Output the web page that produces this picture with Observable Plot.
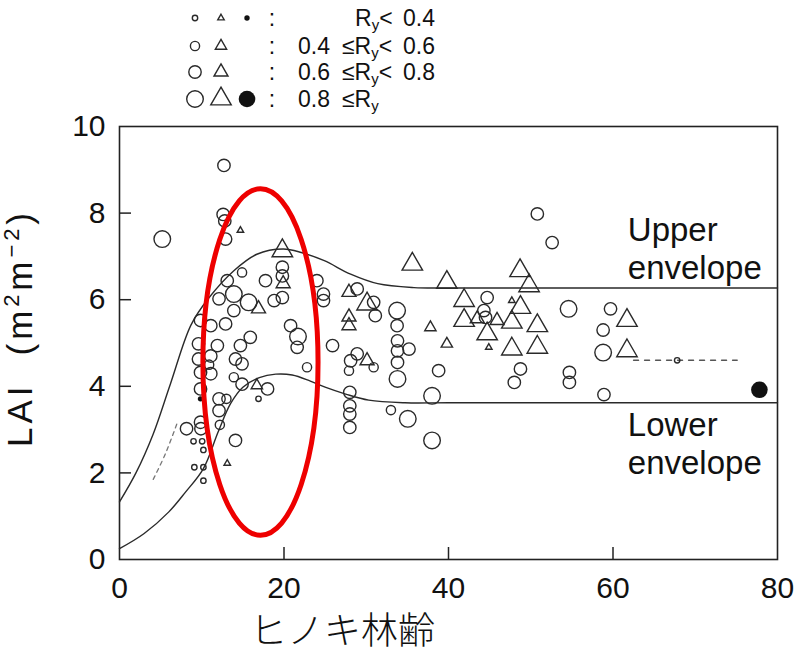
<!DOCTYPE html>
<html><head><meta charset="utf-8">
<script src="https://cdn.jsdelivr.net/npm/d3@7"></script>
<script src="https://cdn.jsdelivr.net/npm/@observablehq/plot@0.6"></script>
<style>
html,body{margin:0;padding:0;background:#fff;}
#wrap{position:relative;width:800px;height:656px;overflow:hidden;background:#fff;}
#legend,#chart svg{display:block;}
</style></head><body>
<div id="wrap"><svg id="legend" width="800" height="118"></svg><div id="chart"></div></div>
<script>
// ---- data: [age, LAI, Ry class] ----
const circles = [
  [5.2,7.4,3],[13.9,6.13,3],[15.7,5.94,3],[21.7,5.15,3],[33.75,5.75,3],[33.8,4.17,3],[38,3.78,3],[35.05,3.25,3],[38,2.75,3],[54.6,5.79,3],[58.8,4.78,3],
  [12.7,9.1,2],[12.6,7.97,2],[12.8,7.82,2],[12.9,7.4,2],[19.8,6.75,2],[19.8,6.55,2],[19.8,6.05,2],[17.75,6.44,2],[13.1,6.44,2],[12.1,6.02,2],[18.8,5.98,2],[24,6.44,2],[24.8,6.13,2],[24.8,5.98,2],[13.9,5.75,2],[12.9,5.44,2],[11.1,5.4,2],[9.85,5.52,2],[20.8,5.4,2],[15.9,5.13,2],[11.9,4.94,2],[14.7,4.94,2],[9.6,4.98,2],[11.1,4.7,2],[9.85,4.32,2],[11.1,4.29,2],[9.6,4.63,2],[14.1,4.63,2],[14.9,4.52,2],[21.6,4.9,2],[14.9,4.05,2],[18,3.94,2],[12.1,3.71,2],[12.1,3.44,2],[9.85,3.17,2],[8.15,3.02,2],[9.9,3.02,2],[14.1,2.75,2],[9.85,3.94,2],[28.9,6.25,2],[30.9,5.94,2],[31.1,5.63,2],[25.9,4.94,2],[28.9,4.75,2],[28.1,4.59,2],[33.75,5.4,2],[33.8,5.05,2],[33.8,4.82,2],[35.2,4.86,2],[33.8,4.55,2],[38.8,4.36,2],[28,3.86,2],[28,3.55,2],[28,3.36,2],[28,3.05,2],[44.7,6.05,2],[44.3,5.75,2],[44.5,5.59,2],[48.75,4.4,2],[48,4.09,2],[54.7,4.32,2],[54.7,4.09,2],[59.7,5.79,2],[58.8,5.3,2],[58.9,3.81,2],[52.6,7.32,2],[50.8,7.98,2],
  [14.9,6.63,1],[22.8,4.44,1],[13.9,4.21,1],[13,3.71,1],[12.2,3.11,1],[27.9,4.36,1],[30.9,4.44,1],[33,3.45,1],[10.9,4.5,1],
  [9.0,2.73,0],[10.05,2.73,0],[10.2,2.53,0],[9.1,2.13,0],[10.2,2.13,0],[10.2,1.82,0],[16.9,3.71,0],[67.8,4.6,0]
];
const triangles = [
  [19.8,7.13,3],[30.1,5.9,3],[35.6,6.82,3],[39.8,6.4,3],[41.9,5.98,3],[41.9,5.52,3],[48.7,6.67,3],[49.8,6.32,3],[48.75,5.82,3],[47.7,5.48,3],[50.8,5.4,3],[44.7,5.21,3],[47.7,4.86,3],[50.8,4.9,3],[61.7,5.52,3],[61.7,4.82,3],
  [16.9,5.79,2],[19.9,6.37,2],[27.9,6.17,2],[27.9,5.6,2],[27.9,5.4,2],[30.1,4.59,2],[45.9,5.52,2],[43.5,5.56,2],
  [37.8,5.36,1],[39.8,4.98,1],[16.7,4.02,1],
  [14.7,7.6,0],[13.1,2.22,0],[44.9,4.9,0],[47.7,5.98,0]
];
const filledDots = [[9.85,3.71,0],[77.8,3.92,3]];
const upperEnvelope = [[0,1.33],[2,2.0],[4.1,2.9],[6.2,4.06],[8.7,5.42],[10.9,6.05],[13.9,6.67],[16.7,7.05],[19.9,7.17],[22.1,7.09],[24.9,6.9],[28.1,6.59],[31.4,6.37],[35.8,6.28],[40,6.27],[60,6.27],[80,6.27]];
const lowerEnvelope = [[0,0.25],[3,0.6],[6,1.1],[8,1.55],[10.2,2.1],[12,2.95],[13.5,3.6],[15,3.98],[17,4.2],[19,4.28],[21,4.26],[23.2,4.12],[25,3.98],[27.5,3.82],[30.3,3.68],[34.7,3.62],[40,3.62],[60,3.62],[80,3.62]];
const dashedLeft = [[4.1,1.85],[5.6,2.45],[7.1,3.2]];
const dashedRight = [[62.5,4.6],[75.1,4.6]];
const envelopeLabels = [
  {x: 61.8, y: 7.59, text: "Upper"}, {x: 61.8, y: 6.72, text: "envelope"},
  {x: 61.8, y: 3.09, text: "Lower"}, {x: 61.8, y: 2.22, text: "envelope"}
];
const highlight = {x: 17.2, y: 4.55, rx: 7.0, ry: 4.0};
const xTickLabels = [0, 20, 40, 60, 80];
const yTickLabels = [0, 2, 4, 6, 8, 10];
const xTickMarks = [20, 40, 60];
const yTickMarks = [2, 4, 6, 8];
const legendRows = [
  {lo: "", hi: "0.4", symbols: ["circle", "triangle", "filled"]},
  {lo: "0.4", hi: "0.6", symbols: ["circle", "triangle"]},
  {lo: "0.6", hi: "0.8", symbols: ["circle", "triangle"]},
  {lo: "0.8", hi: "", symbols: ["circle", "triangle", "filled"]}
];
const xTitle = "ヒノキ林齢";

// ---- style ----
const ink = "#2a2a2a";
const circleR = [2.7, 4.6, 6.2, 8.3];
const triR = [2.4, 4.2, 5.2, 7.6];
const font = "'Liberation Sans', Arial, Helvetica, sans-serif";
const LEG_H = 118;

// ---- legend ----
const lg = d3.select("#legend");
const rowY = [18, 46, 72, 99];
const symX = {circle: 195, triangle: 221, filled: 247};
legendRows.forEach((row, k) => {
  const cy = rowY[k];
  row.symbols.forEach(s => {
    if (s === "triangle") {
      lg.append("path").attr("d", d3.symbol(d3.symbolTriangle, Math.PI * triR[k] * triR[k])())
        .attr("transform", `translate(${symX[s]},${cy})`).attr("fill", "none").attr("stroke", ink).attr("stroke-width", 1.4);
    } else {
      lg.append("circle").attr("cx", symX[s]).attr("cy", cy).attr("r", circleR[k])
        .attr("fill", s === "filled" ? "#111" : "none").attr("stroke", s === "filled" ? "none" : ink).attr("stroke-width", 1.4);
    }
  });
  const t = lg.append("g").attr("font-family", font).attr("font-size", 23).attr("fill", "#111");
  t.append("text").attr("x", 272).attr("y", cy + 8).attr("text-anchor", "middle").text(":");
  if (row.lo) t.append("text").attr("x", 298).attr("y", cy + 8).text(row.lo);
  const r = t.append("text").attr("x", row.lo ? 342 : 355).attr("y", cy + 8);
  r.append("tspan").text(row.lo ? "≤R" : "R");
  r.append("tspan").attr("font-size", 15).attr("dy", 4).text("y");
  if (row.hi) r.append("tspan").attr("dy", -4).text("<");
  if (row.hi) t.append("text").attr("x", 403).attr("y", cy + 8).text(row.hi);
});

// ---- chart ----
const dotMarks = [];
for (let k = 0; k < 4; k++) {
  dotMarks.push(Plot.dot(circles.filter(d => d[2] === k), {x: d => d[0], y: d => d[1], r: circleR[k], stroke: ink, strokeWidth: 1.4, fill: "none"}));
  dotMarks.push(Plot.dot(triangles.filter(d => d[2] === k), {x: d => d[0], y: d => d[1], r: triR[k], symbol: "triangle", stroke: ink, strokeWidth: 1.4, fill: "none"}));
  dotMarks.push(Plot.dot(filledDots.filter(d => d[2] === k), {x: d => d[0], y: d => d[1], r: circleR[k], fill: "#111", stroke: "none"}));
}
const W = 800, H = 656 - LEG_H, mT = 126 - LEG_H, mB = 97, mL = 119, mR = 23;
const fw = W - mL - mR, fh = H - mT - mB;
const chart = Plot.plot({
  width: W, height: H, marginTop: mT, marginBottom: mB, marginLeft: mL, marginRight: mR,
  style: {fontFamily: font, fontSize: "30px", color: "#111", background: "transparent", overflow: "visible"},
  x: {domain: [0, 80]},
  y: {domain: [0, 10]},
  marks: [
    Plot.frame({stroke: "#222", strokeWidth: 1.6}),
    Plot.ruleY(yTickMarks, {y: d => d, stroke: "#222", strokeWidth: 1.5, insetRight: fw - 12}),
    Plot.ruleX(xTickMarks, {x: d => d, stroke: "#222", strokeWidth: 1.5, insetTop: fh - 12}),
    Plot.axisY({ticks: yTickLabels, tickSize: 0, tickPadding: 14, label: null, fontSize: 30, tickFormat: d => String(d)}),
    Plot.axisX({ticks: xTickLabels, tickSize: 0, tickPadding: 17, label: null, fontSize: 30, tickFormat: d => String(d)}),
    Plot.line(upperEnvelope, {x: d => d[0], y: d => d[1], curve: "catmull-rom", stroke: ink, strokeWidth: 1.4}),
    Plot.line(lowerEnvelope, {x: d => d[0], y: d => d[1], curve: "catmull-rom", stroke: ink, strokeWidth: 1.4}),
    Plot.line(dashedLeft, {x: d => d[0], y: d => d[1], curve: "catmull-rom", stroke: "#777", strokeWidth: 1.3, strokeDasharray: "4,4"}),
    Plot.line(dashedRight, {x: d => d[0], y: d => d[1], stroke: "#555", strokeWidth: 1.4, strokeDasharray: "5,6"}),
    ...dotMarks,
    Plot.text(envelopeLabels, {x: "x", y: "y", text: "text", textAnchor: "start", fontSize: 33, fill: "#111"}),
    Plot.text([xTitle], {frameAnchor: "bottom", text: d => d, dx: -106, dy: 73, lineAnchor: "middle", fontSize: 37, fontWeight: 300, fontFamily: "'Noto Sans CJK JP', sans-serif", fill: "#111"}),
    (index, scales) => {
      const {x, y} = scales;
      return d3.create("svg:ellipse")
        .attr("cx", x(highlight.x)).attr("cy", y(highlight.y))
        .attr("rx", x(highlight.x + highlight.rx) - x(highlight.x))
        .attr("ry", y(highlight.y - highlight.ry) - y(highlight.y))
        .attr("fill", "none").attr("stroke", "#ee0000").attr("stroke-width", 5).node();
    }
  ]
});
// y axis title with superscripts
const yt = d3.select(chart).append("text")
  .attr("transform", `translate(32,${330 - LEG_H}) rotate(-90)`)
  .attr("text-anchor", "middle").attr("font-family", font).attr("font-size", 35).attr("fill", "#111")
  .attr("textLength", 234).attr("lengthAdjust", "spacing");
yt.append("tspan").text("LAI  (m");
yt.append("tspan").attr("font-size", 22).attr("dy", -13).text("2");
yt.append("tspan").attr("dy", 13).text("m");
yt.append("tspan").attr("font-size", 22).attr("dy", -13).text("−2");
yt.append("tspan").attr("dy", 13).text(")");
document.getElementById("chart").appendChild(chart);
</script>
</body></html>
